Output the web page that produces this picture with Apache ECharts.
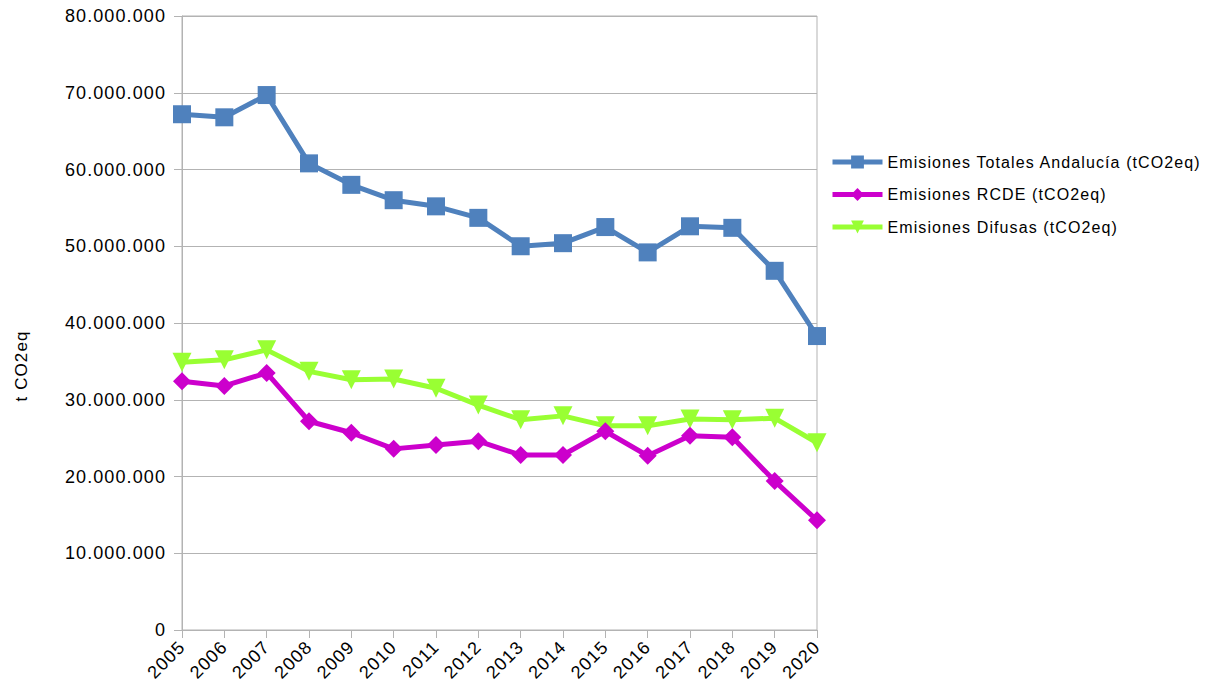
<!DOCTYPE html>
<html><head><meta charset="utf-8">
<script src="https://cdn.jsdelivr.net/npm/echarts@6/dist/echarts.min.js"></script>
<style>html,body{margin:0;padding:0;background:#fff}#c{width:1213px;height:695px}
#c svg text{letter-spacing:1.1px}</style>
</head><body><div id="c"></div>
<script>
const years = ['2005','2006','2007','2008','2009','2010','2011','2012','2013','2014','2015','2016','2017','2018','2019','2020'];
const totales = [67200000,66800000,69700000,60800000,58000000,56000000,55200000,53700000,50000000,50400000,52500000,49200000,52600000,52400000,46800000,38300000];
const rcde = [32400000,31800000,33500000,27200000,25700000,23600000,24100000,24600000,22800000,22800000,25900000,22700000,25300000,25100000,19400000,14300000];
const difusas = [34900000,35200000,36500000,33700000,32600000,32700000,31500000,29300000,27400000,27900000,26600000,26600000,27500000,27400000,27600000,24400000];
const seriesNames = ['Emisiones Totales Andalucía (tCO2eq)','Emisiones RCDE (tCO2eq)','Emisiones Difusas (tCO2eq)'];
const yAxisName = 't CO2eq';

const font = 'Liberation Sans';
const fmt = v => String(Math.round(v)).replace(/\B(?=(\d{3})+(?!\d))/g, '.');
const chart = echarts.init(document.getElementById('c'), null, {renderer: 'svg'});
chart.setOption({
  animation: false,
  backgroundColor: '#fff',
  grid: {left: 182, right: 396, top: 16, bottom: 65, containLabel: false, show: true, borderColor: '#b3b3b3', borderWidth: 1},
  legend: {
    orient: 'vertical', left: 825, top: 149, itemGap: 16.5, itemWidth: 50, itemHeight: 16,
    lineStyle: {width: 5},
    textStyle: {fontFamily: font, fontSize: 16, color: '#000'},
    data: seriesNames
  },
  xAxis: {
    type: 'category', data: years, boundaryGap: false,
    axisLine: {lineStyle: {color: '#b3b3b3', width: 1}},
    axisTick: {show: true, length: 8, alignWithLabel: true, lineStyle: {color: '#b3b3b3'}},
    axisLabel: {rotate: 45, fontFamily: font, fontSize: 18, color: '#000', margin: 14, interval: 0},
    splitLine: {show: false}
  },
  yAxis: {
    type: 'value', min: 0, max: 80000000, interval: 10000000,
    axisLine: {show: true, lineStyle: {color: '#b3b3b3', width: 1}},
    axisTick: {show: true, length: 8, lineStyle: {color: '#b3b3b3'}},
    axisLabel: {fontFamily: font, fontSize: 18, color: '#000', margin: 16, formatter: fmt},
    splitLine: {lineStyle: {color: '#b3b3b3', width: 1}}
  },
  graphic: [{
    type: 'text', rotation: Math.PI/2, x: 21, y: 366,
    style: {text: yAxisName, font: '17px "Liberation Sans"', fill: '#000', align: 'center', verticalAlign: 'middle'}
  }],
  series: [
    {name: seriesNames[0], type: 'line', data: totales, symbol: 'rect', symbolSize: 18,
     lineStyle: {width: 5, color: '#4f81bd'}, itemStyle: {color: '#4f81bd'}, z: 3},
    {name: seriesNames[1], type: 'line', data: rcde, symbol: 'diamond', symbolSize: 18,
     lineStyle: {width: 5, color: '#cc00cc'}, itemStyle: {color: '#cc00cc'}, z: 4},
    {name: seriesNames[2], type: 'line', data: difusas, symbol: 'triangle', symbolRotate: 180, symbolSize: 19,
     lineStyle: {width: 5, color: '#99ff33'}, itemStyle: {color: '#99ff33'}, z: 2}
  ]
});
</script></body></html>
